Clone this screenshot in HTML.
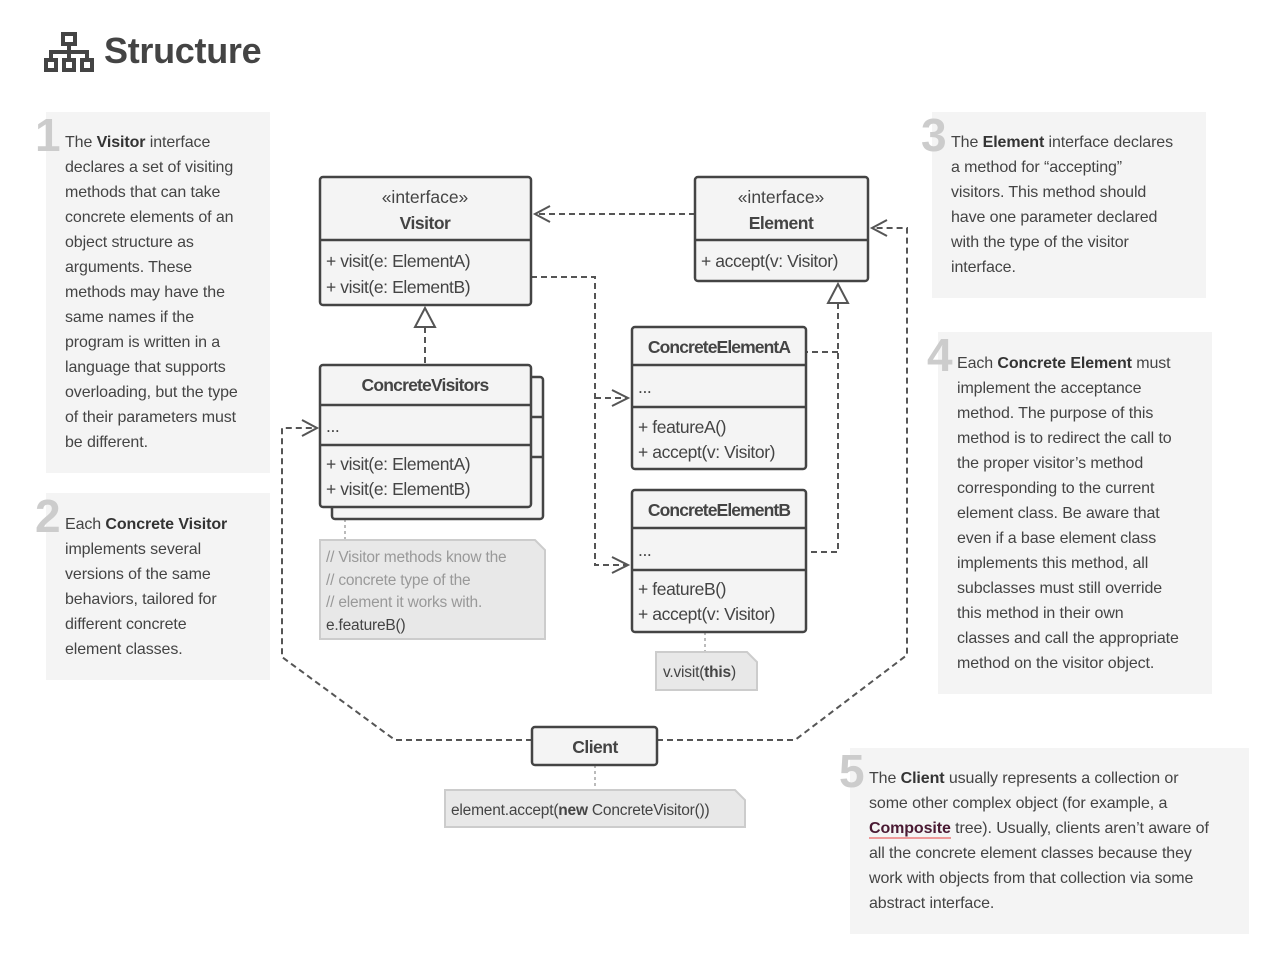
<!DOCTYPE html>
<html><head><meta charset="utf-8"><style>
body{margin:0;width:1280px;height:964px;background:#fff;font-family:"Liberation Sans",sans-serif;color:#444;position:relative;overflow:hidden}
.box{position:absolute;background:#f4f4f4}
.num{position:absolute;font-size:46px;font-weight:bold;color:#ccc;line-height:1}
.txt{position:absolute;font-size:16px;line-height:25px;white-space:nowrap;color:#444;letter-spacing:-0.1px}
b{color:#333}
h1{position:absolute;left:104px;top:30px;margin:0;font-size:36px;font-weight:bold;color:#444;letter-spacing:-0.3px}
</style></head><body>
<svg style="position:absolute;left:43px;top:32px" width="54" height="42" viewBox="0 0 54 42">
<g fill="none" stroke="#444" stroke-width="4"><rect x="20" y="2" width="12" height="10"/><rect x="3" y="28" width="10" height="10"/><rect x="21" y="28" width="10" height="10"/><rect x="39" y="28" width="10" height="10"/><path d="M26 12v8M8 28v-8h36v8M26 20v8"/></g></svg>
<h1>Structure</h1>

<div class="box" style="left:46px;top:112px;width:224px;height:361px"></div>
<div class="num" style="left:35px;top:112px">1</div>
<div class="txt" style="left:65px;top:130px">The <b>Visitor</b> interface<br>declares a set of visiting<br>methods that can take<br>concrete elements of an<br>object structure as<br>arguments. These<br>methods may have the<br>same names if the<br>program is written in a<br>language that supports<br>overloading, but the type<br>of their parameters must<br>be different.</div>

<div class="box" style="left:46px;top:493px;width:224px;height:187px"></div>
<div class="num" style="left:35px;top:493px">2</div>
<div class="txt" style="left:65px;top:512px">Each <b>Concrete Visitor</b><br>implements several<br>versions of the same<br>behaviors, tailored for<br>different concrete<br>element classes.</div>

<div class="box" style="left:932px;top:112px;width:274px;height:186px"></div>
<div class="num" style="left:921px;top:112px">3</div>
<div class="txt" style="left:951px;top:130px">The <b>Element</b> interface declares<br>a method for “accepting”<br>visitors. This method should<br>have one parameter declared<br>with the type of the visitor<br>interface.</div>

<div class="box" style="left:938px;top:332px;width:274px;height:362px"></div>
<div class="num" style="left:927px;top:332px">4</div>
<div class="txt" style="left:957px;top:351px">Each <b>Concrete Element</b> must<br>implement the acceptance<br>method. The purpose of this<br>method is to redirect the call to<br>the proper visitor’s method<br>corresponding to the current<br>element class. Be aware that<br>even if a base element class<br>implements this method, all<br>subclasses must still override<br>this method in their own<br>classes and call the appropriate<br>method on the visitor object.</div>

<div class="box" style="left:850px;top:748px;width:399px;height:186px"></div>
<div class="num" style="left:839px;top:748px">5</div>
<div class="txt" style="left:869px;top:766px">The <b>Client</b> usually represents a collection or<br>some other complex object (for example, a<br><b style="color:#4a1a33;border-bottom:2px solid #e99">Composite</b> tree). Usually, clients aren’t aware of<br>all the concrete element classes because they<br>work with objects from that collection via some<br>abstract interface.</div>

<svg style="position:absolute;left:0;top:0" width="1280" height="964" font-family="Liberation Sans, sans-serif" font-size="17.5" fill="#444">
<g fill="none" stroke="#555" stroke-width="2" stroke-dasharray="6,4">
<path d="M695 214H536"/>
<path d="M531 277H595V565H628M595 398H628"/>
<path d="M425 327V365"/>
<path d="M838 303V552H806M838 352H806"/>
<path d="M532 740H395L282 657V428H316"/>
<path d="M657 740H795L907 655V228H872"/>
</g>
<g fill="none" stroke="#555" stroke-width="2">
<path d="M550 206L535 214L550 222"/>
<path d="M612 390L628 398L612 406M612 557L628 565L612 573"/>
<path d="M302 420L317 428L302 436"/>
<path d="M887 220L872 228L887 236"/>
</g>
<polygon points="425,308 415,327 435,327" fill="#fff" stroke="#555" stroke-width="2"/>
<polygon points="838,284 828,303 848,303" fill="#fff" stroke="#555" stroke-width="2"/>
<g stroke="#bbb" stroke-width="2" stroke-dasharray="3,3"><path d="M345 507V540M705 632V652M595 765V790"/></g>
<g stroke="#444" stroke-width="2.5" fill="#f4f4f4">
<rect x="332" y="377" width="211" height="142" rx="3"/>
<rect x="320" y="177" width="211" height="128" rx="3"/>
<rect x="320" y="365" width="211" height="142" rx="3"/>
<rect x="695" y="177" width="173" height="104" rx="3"/>
<rect x="632" y="327" width="174" height="142" rx="3"/>
<rect x="632" y="490" width="174" height="142" rx="3"/>
<rect x="532" y="727" width="125" height="38" rx="3"/>
</g>
<g stroke="#444" stroke-width="2.5"><path d="M320 240H531M320 405H531M320 445H531M531 417H543M531 457H543M695 240H868M632 365H806M632 407H806M632 528H806M632 570H806"/></g>
<g fill="#e8e8e8" stroke="#ccc" stroke-width="2">
<path d="M320 540H535L545 550V639H320Z"/>
<path d="M656 652H747L757 662V690H656Z"/>
<path d="M445 790H735L745 800V827H445Z"/>
</g>
<g text-anchor="middle">
<text x="425" y="203">«interface»</text><text x="425" y="229" font-weight="bold" letter-spacing="-0.5">Visitor</text>
<text x="425" y="391" font-weight="bold" letter-spacing="-0.8">ConcreteVisitors</text>
<text x="781" y="203">«interface»</text><text x="781" y="229" font-weight="bold" letter-spacing="-0.5">Element</text>
<text x="719" y="353" font-weight="bold" letter-spacing="-0.9">ConcreteElementA</text>
<text x="719" y="516" font-weight="bold" letter-spacing="-0.9">ConcreteElementB</text>
<text x="595" y="753" font-weight="bold" letter-spacing="-0.5">Client</text>
</g>
<g letter-spacing="-0.4">
<text x="326" y="267">+ visit(e: ElementA)</text><text x="326" y="293">+ visit(e: ElementB)</text>
<text x="326" y="432">...</text>
<text x="326" y="470">+ visit(e: ElementA)</text><text x="326" y="495">+ visit(e: ElementB)</text>
<text x="701" y="267">+ accept(v: Visitor)</text>
<text x="638" y="393">...</text><text x="638" y="433">+ featureA()</text><text x="638" y="458">+ accept(v: Visitor)</text>
<text x="638" y="556">...</text><text x="638" y="595">+ featureB()</text><text x="638" y="620">+ accept(v: Visitor)</text>
</g>
<g font-size="15.5" letter-spacing="-0.2"><g fill="#999"><text x="326" y="562">// Visitor methods know the</text><text x="326" y="585">// concrete type of the</text><text x="326" y="607">// element it works with.</text></g>
<text x="326" y="630">e.featureB()</text>
<text x="663" y="677">v.visit(<tspan font-weight="bold">this</tspan>)</text>
<text x="451" y="815">element.accept(<tspan font-weight="bold">new</tspan> ConcreteVisitor())</text></g>
</svg>
</body></html>
